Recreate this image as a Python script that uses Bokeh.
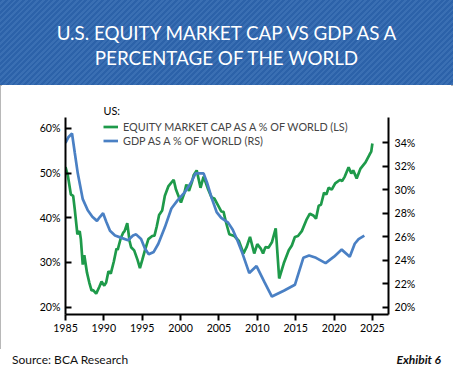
from bokeh.plotting import figure
from bokeh.models import (Range1d, LinearAxis, FixedTicker, PrintfTickFormatter,
                          Legend, LegendItem, Title, Div)
from bokeh.layouts import column
from bokeh.embed import file_html
from bokeh.resources import INLINE

# ---------------- data ----------------
title_lines = ["U.S. EQUITY MARKET CAP VS GDP AS A", "PERCENTAGE OF THE WORLD"]
legend_title = "US:"
equity_label = "EQUITY MARKET CAP AS A % OF WORLD (LS)"
gdp_label = "GDP AS A % OF WORLD (RS)"
source_text = "Source: BCA Research"
exhibit_text = "Exhibit 6"

year_ticks = [1985, 1990, 1995, 2000, 2005, 2010, 2015, 2020, 2025]
left_ticks = [20, 30, 40, 50, 60]
right_ticks = [20, 22, 24, 26, 28, 30, 32, 34]

equity_years = [1985.0, 1985.3, 1985.7, 1986.0, 1986.2, 1986.55, 1986.85, 1987.0, 1987.25,
                1987.45, 1987.8, 1988.1, 1988.4, 1988.6, 1989.0, 1989.4, 1989.7, 1990.05,
                1990.3, 1990.6, 1990.9, 1991.3, 1991.65, 1991.8, 1992.2, 1992.5, 1992.7,
                1993.05, 1993.35, 1993.55, 1993.95, 1994.4, 1994.7, 1995.0, 1995.35, 1995.8,
                1996.3, 1996.6, 1996.9, 1997.2, 1997.6, 1997.95, 1998.4, 1999.1, 1999.4,
                2000.05, 2000.5, 2000.75, 2001.1, 2001.5, 2001.7, 2002.1, 2002.6, 2003.0,
                2003.6, 2004.05, 2004.4, 2004.9, 2005.3, 2005.6, 2005.9, 2006.35, 2007.0,
                2007.6, 2008.2, 2008.6, 2009.05, 2009.6, 2010.0, 2010.45, 2010.75, 2011.05,
                2011.45, 2011.9, 2012.4, 2012.85, 2013.45, 2014.1, 2014.5, 2014.9, 2015.3,
                2015.8, 2016.4, 2016.85, 2017.3, 2017.65, 2018.0, 2018.3, 2018.7, 2019.0,
                2019.3, 2019.7, 2020.15, 2020.8, 2021.05, 2021.4, 2021.9, 2022.25, 2022.5,
                2022.95, 2023.45, 2024.1, 2024.65, 2024.85, 2025.0]
equity_pct = [51.3, 49.5, 45.2, 44.9, 42.0, 36.3, 37.0, 35.2, 29.5,
              31.6, 27.7, 25.5, 23.7, 23.8, 23.0, 24.5, 25.7, 24.8,
              25.5, 28.0, 27.5, 30.2, 33.1, 32.8, 35.4, 36.6, 37.0,
              38.8, 34.8, 33.4, 32.7, 30.5, 28.7, 30.5, 32.7, 35.2,
              35.9, 36.0, 38.1, 40.6, 41.6, 44.9, 47.0, 48.5, 46.3,
              43.4, 45.6, 47.4, 46.0, 48.1, 49.5, 50.6, 46.7, 49.2,
              46.3, 44.5, 44.3, 42.7, 41.4, 41.3, 39.1, 36.3, 35.9,
              34.8, 32.0, 33.4, 35.7, 32.0, 34.1, 33.1, 32.0, 33.4,
              33.3, 34.5, 37.6, 26.4, 29.8, 32.7, 33.8, 35.7, 35.9,
              37.0, 39.5, 40.9, 40.5, 39.8, 42.7, 42.9, 45.6, 45.2,
              46.7, 46.3, 47.7, 48.5, 48.2, 49.2, 51.3, 49.9, 50.6,
              48.8, 51.0, 52.4, 54.2, 54.8, 56.6]

gdp_years = [1985.0, 1985.4, 1985.85, 1986.2, 1986.6, 1987.25, 1987.9, 1988.5, 1989.1,
             1989.5, 1989.9, 1990.3, 1990.8, 1991.45, 1992.3, 1993.15, 1993.8, 1994.2,
             1994.85, 1995.35, 1995.85, 1996.5, 1997.1, 1997.95, 1998.8, 1999.6, 2000.5,
             2001.35, 2001.95, 2003.0, 2003.45, 2004.1, 2004.7, 2005.3, 2006.2, 2006.8,
             2007.4, 2008.05, 2008.95, 2009.9, 2010.95, 2011.9, 2013.45, 2014.9, 2016.0,
             2016.75, 2017.65, 2018.9, 2020.0, 2021.0, 2022.05, 2022.7, 2023.2, 2023.95]
gdp_pct = [34.0, 34.5, 34.8, 33.2, 31.4, 29.2, 28.25, 27.7, 27.35,
           27.7, 28.0, 27.3, 26.5, 26.1, 25.9, 25.7, 26.1, 26.2,
           25.8, 25.0, 24.5, 24.7, 25.4, 26.8, 28.4, 29.1, 29.75,
           30.6, 31.4, 31.4, 30.6, 29.2, 28.1, 27.6, 27.2, 26.6,
           25.7, 24.6, 22.9, 23.5, 22.1, 20.9, 21.4, 21.9, 24.2,
           24.4, 24.2, 23.75, 24.3, 24.9, 24.3, 25.4, 25.8, 26.1]

# ---------------- styling ----------------
FONT = "Lato"
GREEN = "#1e9a4a"
BLUE = "#4a80c4"
W = 453
BANNER_H = 85
FOOT_H = 24
FIG_H = 373 - BANNER_H - FOOT_H

banner = Div(
    text=('<div style="width:%dpx;height:%dpx;box-sizing:border-box;padding-top:5px;'
          'background:repeating-linear-gradient(135deg,#2c62a9 0px,#2c62a9 2px,#3a6fb3 2px,#3a6fb3 4px);'
          'display:flex;align-items:center;justify-content:center;text-align:center;'
          'color:#ffffff;font-family:Lato;font-size:18.8px;line-height:25px;">%s<br>%s</div>'
          % (W, BANNER_H, title_lines[0], title_lines[1])),
    width=W, height=BANNER_H, margin=0)

footer = Div(
    text=('<div style="width:%dpx;height:%dpx;box-sizing:border-box;padding:0 12px 2px 12px;'
          'display:flex;align-items:center;justify-content:space-between;'
          'font-family:Lato;font-size:12px;color:#111111;background:#ffffff;">'
          '<span>%s</span><span style="font-weight:bold;font-style:italic;">%s</span></div>'
          % (W, FOOT_H, source_text, exhibit_text)),
    width=W, height=FOOT_H, margin=0)

p = figure(width=W, height=FIG_H, output_backend="svg", toolbar_location=None,
           x_range=Range1d(1985, 2027.1), y_range=Range1d(18.34, 62.43),
           min_border_left=65, min_border_right=65, min_border_top=32, min_border_bottom=35)
p.extra_y_ranges = {"right": Range1d(19.37, 36.16)}
p.outline_line_color = None
p.xgrid.visible = False
p.ygrid.visible = False
p.background_fill_color = "white"
p.border_fill_color = "white"

p.add_layout(Title(text=legend_title, align="left", offset=38, standoff=1,
                   text_font=FONT, text_font_size="10.8px", text_font_style="normal",
                   text_color="black"), "above")

r_eq = p.line(x=equity_years, y=equity_pct, line_color=GREEN, line_width=2.7)
r_gdp = p.line(x=gdp_years, y=gdp_pct, line_color=BLUE, line_width=2.7, y_range_name="right")

right_axis = LinearAxis(y_range_name="right")
p.add_layout(right_axis, "right")

for ax in [p.xaxis[0], p.yaxis[0], right_axis]:
    ax.axis_line_width = 2
    ax.axis_line_color = "black"
    ax.major_tick_line_width = 2
    ax.major_tick_line_color = "black"
    ax.minor_tick_line_color = None
    ax.major_label_text_font = FONT
    ax.major_label_text_font_size = "10.6px"
    ax.major_label_text_color = "black"

p.xaxis[0].ticker = FixedTicker(ticks=year_ticks)
p.xaxis[0].major_tick_in = 0
p.xaxis[0].major_tick_out = 6
p.xaxis[0].major_label_standoff = 3

p.yaxis[0].ticker = FixedTicker(ticks=left_ticks)
p.yaxis[0].formatter = PrintfTickFormatter(format="%d%%")
p.yaxis[0].major_tick_in = 6
p.yaxis[0].major_tick_out = 0
p.yaxis[0].major_label_standoff = 5

right_axis.ticker = FixedTicker(ticks=right_ticks)
right_axis.formatter = PrintfTickFormatter(format="%d%%")
right_axis.major_tick_in = 6
right_axis.major_tick_out = 0
right_axis.major_label_standoff = 6

legend = Legend(items=[LegendItem(label=equity_label, renderers=[r_eq]),
                       LegendItem(label=gdp_label, renderers=[r_gdp])],
                location=(38, 167), orientation="vertical")
legend.label_text_font = FONT
legend.label_text_font_size = "10.8px"
legend.glyph_width = 15
legend.glyph_height = 13
legend.label_height = 13
legend.label_standoff = 5
legend.spacing = 1
legend.padding = 0
legend.margin = 0
legend.border_line_color = None
legend.background_fill_alpha = 0
p.add_layout(legend, "center")

layout = column(banner, p, footer, spacing=0)
layout.styles = {"outline": "2px solid #a0a0a0", "outline-offset": "-2px"}
open("out.html", "w").write(file_html(layout, INLINE))
